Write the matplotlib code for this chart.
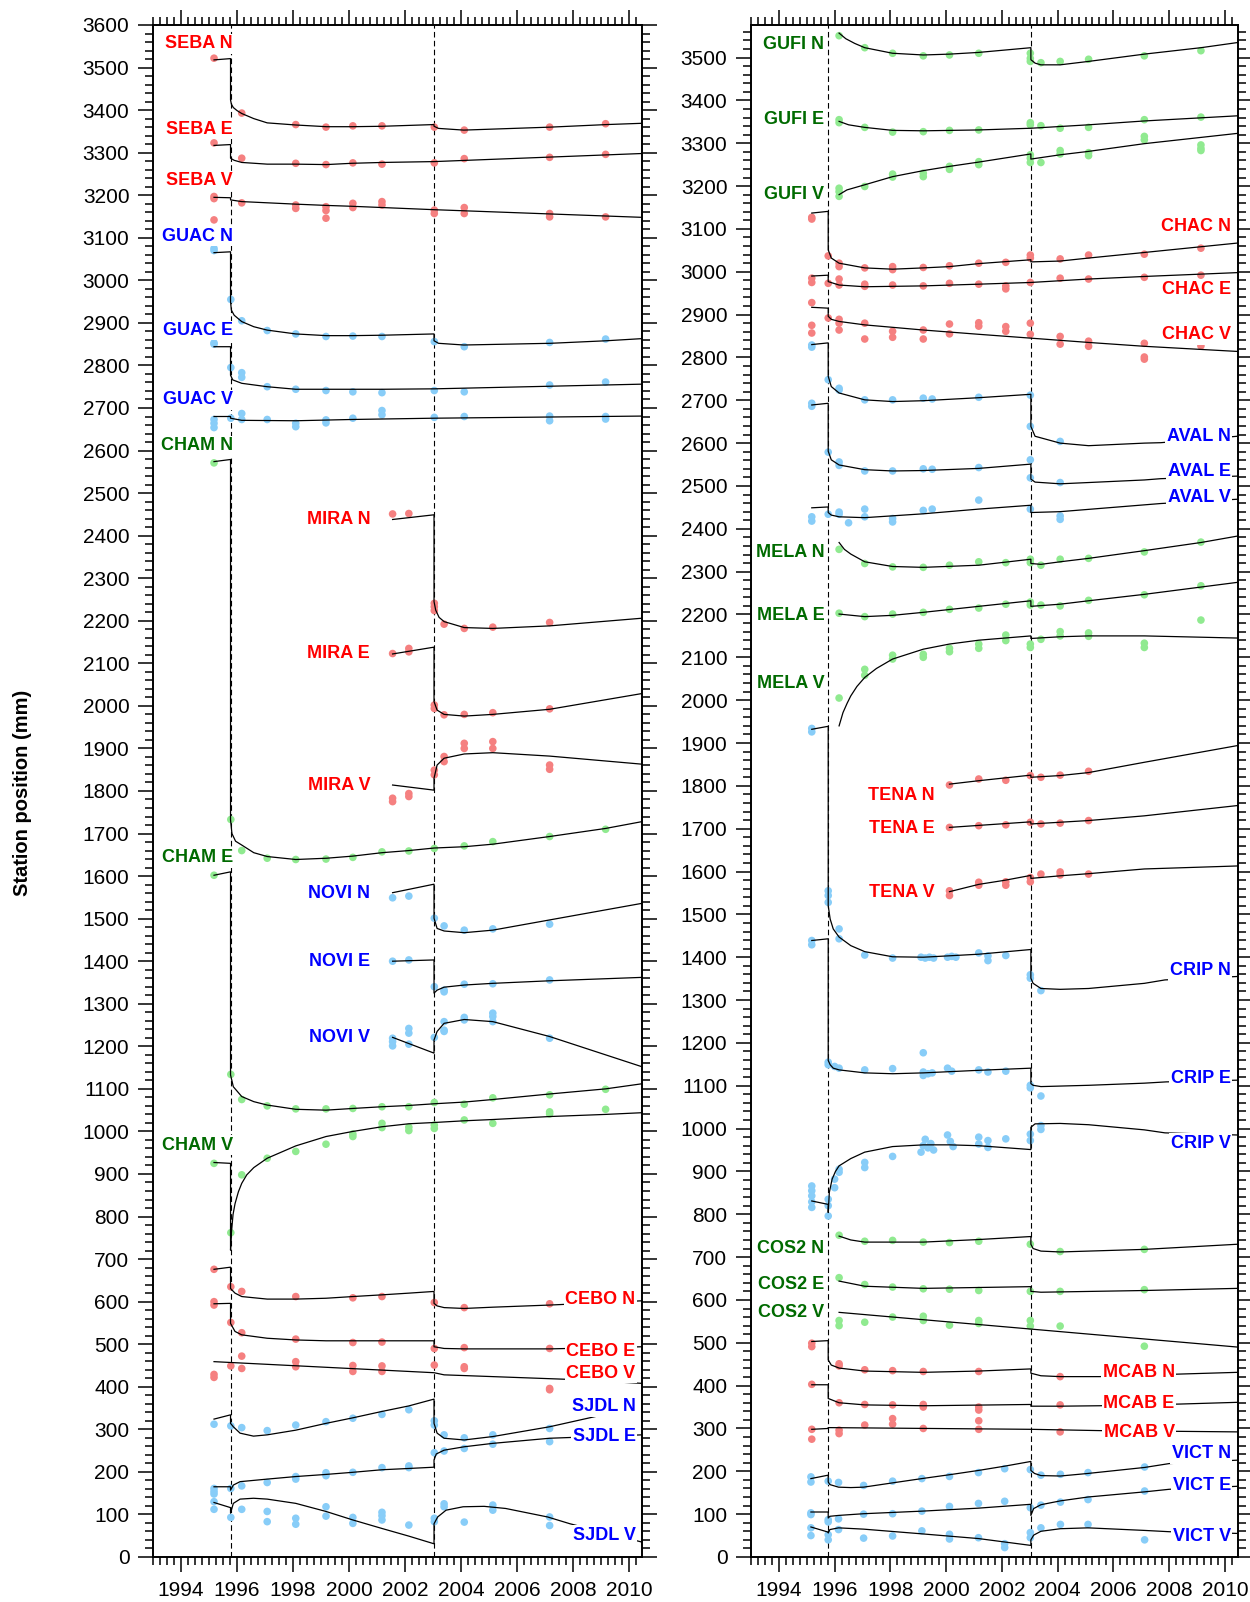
import matplotlib
matplotlib.use("Agg")
import matplotlib.pyplot as plt
from matplotlib.ticker import MultipleLocator

plt.rcParams["font.family"] = ["Liberation Sans", "DejaVu Sans"]

EQ1 = 1995.77
EQ2 = 2003.04

# ---------------- left panel ----------------
SEBA_N_obs = [(1995.18, 3522), (1996.17, 3393), (1998.10, 3366), (1999.18, 3360), (2000.14, 3363), (2001.18, 3363),
              (2003.05, 3360), (2004.12, 3353), (2007.17, 3360), (2009.17, 3368)]
SEBA_N_fit = [(1995.18, 3518), (1995.77, 3521), (1995.77, 3424), (1995.8, 3414), (1995.87, 3406), (1996.0, 3399),
              (1996.17, 3392), (1996.6, 3380), (1997.08, 3370), (1998.1, 3365), (1999.2, 3361), (2000.1, 3361),
              (2001.2, 3362), (2003.04, 3366), (2003.04, 3362), (2003.2, 3357), (2004.1, 3353), (2007.2, 3360),
              (2009.2, 3366), (2010.47, 3369)]
SEBA_E_obs = [(1995.18, 3323), (1996.17, 3287), (1998.10, 3275), (1999.18, 3272), (2000.14, 3276), (2001.18, 3273),
              (2003.05, 3276), (2004.12, 3286), (2007.17, 3289), (2009.17, 3296)]
SEBA_E_fit = [(1995.18, 3317), (1995.77, 3319), (1995.77, 3287), (1995.9, 3282), (1996.17, 3277), (1997.08, 3273),
              (1998.1, 3273), (1999.2, 3272), (2000.1, 3275), (2001.2, 3277), (2003.04, 3279), (2010.47, 3298)]
SEBA_V_obs = [(1995.18, 3197), (1995.18, 3192), (1995.18, 3142), (1996.17, 3182), (1998.10, 3177), (1998.10, 3169),
              (1999.18, 3173), (1999.18, 3164), (1999.18, 3146), (2000.14, 3181), (2000.14, 3171), (2001.18, 3185),
              (2001.18, 3177), (2003.05, 3165), (2003.05, 3157), (2004.12, 3171), (2004.12, 3157), (2007.17, 3157),
              (2007.17, 3149), (2009.17, 3149)]
SEBA_V_fit = [(1995.18, 3195), (1995.77, 3194), (1995.77, 3189), (1996.17, 3185), (1998.1, 3179), (1999.2, 3176),
              (2000.1, 3174), (2001.2, 3171), (2003.04, 3166), (2010.47, 3148)]

GUAC_N_obs = [(1995.18, 3075), (1995.18, 3070), (1995.78, 2955), (1996.17, 2905), (1997.08, 2882), (1998.10, 2874),
              (1999.18, 2868), (2000.14, 2869), (2001.18, 2868), (2003.05, 2856), (2004.12, 2844), (2007.17, 2854),
              (2009.17, 2862)]
GUAC_N_fit = [(1995.18, 3065), (1995.77, 3067), (1995.77, 2950), (1995.8, 2930), (1995.9, 2918), (1996.17, 2903),
              (1996.6, 2891), (1997.08, 2883), (1998.1, 2874), (1999.2, 2870), (2000.1, 2870), (2001.2, 2871),
              (2003.04, 2874), (2003.04, 2858), (2003.2, 2852), (2004.1, 2848), (2007.2, 2852), (2009.2, 2858),
              (2010.47, 2863)]
GUAC_E_obs = [(1995.18, 2853), (1995.18, 2850), (1995.78, 2795), (1996.17, 2783), (1996.17, 2772), (1997.08, 2750),
              (1998.10, 2744), (1999.18, 2741), (2000.14, 2738), (2001.18, 2736), (2003.05, 2741), (2004.12, 2738),
              (2007.17, 2754), (2009.17, 2761)]
GUAC_E_fit = [(1995.18, 2844), (1995.77, 2844), (1995.77, 2777), (1995.85, 2766), (1996.17, 2758), (1997.08, 2750),
              (1998.1, 2744), (1999.2, 2744), (2001.2, 2744), (2003.04, 2745), (2010.47, 2756)]
GUAC_V_obs = [(1995.18, 2673), (1995.18, 2664), (1995.18, 2654), (1995.78, 2676), (1996.17, 2687), (1996.17, 2673),
              (1997.08, 2673), (1998.10, 2664), (1998.10, 2656), (1999.18, 2672), (1999.18, 2665), (2000.14, 2676),
              (2001.18, 2694), (2001.18, 2684), (2003.05, 2678), (2004.12, 2680), (2007.17, 2681), (2007.17, 2670),
              (2009.17, 2680), (2009.17, 2674)]
GUAC_V_fit = [(1995.18, 2680), (1995.77, 2680), (1995.77, 2676), (1996.17, 2671), (1998.1, 2670), (2000.1, 2673),
              (2003.04, 2676), (2010.47, 2681)]

CHAM_N_obs = [(1995.18, 2571), (1995.78, 1733), (1996.17, 1660), (1997.08, 1642), (1998.10, 1639), (1999.18, 1640),
              (2000.14, 1644), (2001.18, 1657), (2002.14, 1659), (2003.05, 1665), (2004.12, 1671), (2005.14, 1681),
              (2007.17, 1693), (2009.17, 1710)]
CHAM_N_fit = [(1995.18, 2574), (1995.77, 2579), (1995.77, 1732), (1995.82, 1700), (1995.95, 1682), (1996.17, 1673),
              (1996.6, 1655), (1997.08, 1646), (1998.1, 1639), (1999.2, 1642), (2000.14, 1647), (2001.18, 1655),
              (2002.14, 1660), (2003.05, 1666), (2004.12, 1669), (2005.14, 1675), (2007.17, 1693), (2009.17, 1712),
              (2010.47, 1728)]
CHAM_E_obs = [(1995.18, 1602), (1995.78, 1134), (1996.17, 1075), (1997.08, 1060), (1998.10, 1053), (1999.18, 1053),
              (2000.14, 1054), (2001.18, 1058), (2002.14, 1058), (2003.05, 1068), (2004.12, 1064), (2005.14, 1079),
              (2007.17, 1086), (2009.17, 1099)]
CHAM_E_fit = [(1995.18, 1602), (1995.77, 1610), (1995.77, 1133), (1995.87, 1105), (1996.17, 1082), (1996.6, 1070),
              (1997.08, 1062), (1998.1, 1052), (1999.18, 1050), (2000.14, 1054), (2001.18, 1058), (2002.14, 1061),
              (2003.05, 1065), (2004.12, 1069), (2005.14, 1075), (2007.17, 1088), (2009.17, 1100), (2010.47, 1112)]
CHAM_V_obs = [(1995.18, 925), (1995.78, 762), (1996.17, 898), (1997.08, 937), (1998.10, 953), (1999.18, 970),
              (2000.14, 994), (2000.14, 988), (2001.18, 1019), (2001.18, 1009), (2002.14, 1010), (2002.14, 1002),
              (2003.05, 1015), (2003.05, 1007), (2004.12, 1027), (2005.14, 1019), (2007.17, 1046), (2007.17, 1041),
              (2009.17, 1052)]
CHAM_V_fit = [(1995.18, 927), (1995.77, 925), (1995.77, 721), (1995.8, 761), (1995.86, 805), (1995.93, 830),
              (1996.05, 858), (1996.17, 878), (1996.35, 898), (1996.6, 915), (1997.08, 937), (1998.1, 966),
              (1999.18, 988), (2000.14, 1000), (2001.18, 1011), (2002.14, 1018), (2003.05, 1021), (2004.12, 1025),
              (2005.14, 1028), (2007.17, 1035), (2009.17, 1040), (2010.47, 1044)]

MIRA_N_obs = [(2001.56, 2451), (2002.14, 2452), (2003.05, 2241), (2003.05, 2233), (2003.05, 2224), (2003.40, 2192),
              (2004.12, 2182), (2005.14, 2185), (2007.17, 2196)]
MIRA_N_fit = [(2001.56, 2438), (2003.04, 2449), (2003.04, 2245), (2003.1, 2225), (2003.22, 2208), (2003.4, 2198),
              (2004.12, 2184), (2005.14, 2182), (2007.17, 2188), (2010.47, 2206)]
MIRA_E_obs = [(2001.56, 2123), (2002.14, 2135), (2002.14, 2127), (2003.05, 2002), (2003.05, 1994), (2003.40, 1979),
              (2004.12, 1980), (2005.14, 1984), (2007.17, 1993)]
MIRA_E_fit = [(2001.56, 2122), (2003.04, 2138), (2003.04, 2010), (2003.15, 1990), (2003.4, 1980), (2004.12, 1976),
              (2005.14, 1980), (2007.17, 1992), (2010.47, 2029)]
MIRA_V_obs = [(2001.56, 1783), (2001.56, 1775), (2002.14, 1794), (2002.14, 1787), (2003.05, 1849), (2003.05, 1838),
              (2003.40, 1881), (2003.40, 1869), (2004.12, 1912), (2004.12, 1900), (2005.14, 1916), (2005.14, 1900),
              (2007.17, 1861), (2007.17, 1851)]
MIRA_V_fit = [(2001.56, 1814), (2003.04, 1802), (2003.04, 1830), (2003.15, 1861), (2003.4, 1877), (2004.12, 1887),
              (2005.14, 1890), (2007.17, 1882), (2010.47, 1863)]

NOVI_N_obs = [(2001.56, 1549), (2002.14, 1553), (2003.05, 1501), (2003.40, 1483), (2004.12, 1473), (2005.14, 1476),
              (2007.17, 1487)]
NOVI_N_fit = [(2001.56, 1561), (2003.04, 1581), (2003.04, 1501), (2003.15, 1477), (2003.4, 1471), (2004.12, 1467),
              (2005.14, 1473), (2007.17, 1497), (2010.47, 1536)]
NOVI_E_obs = [(2001.56, 1400), (2002.14, 1403), (2003.05, 1340), (2003.40, 1332), (2003.40, 1328), (2004.12, 1346),
              (2005.14, 1347), (2007.17, 1356)]
NOVI_E_fit = [(2001.56, 1400), (2003.04, 1403), (2003.04, 1325), (2003.15, 1332), (2003.4, 1339), (2004.12, 1344),
              (2005.14, 1348), (2007.17, 1354), (2010.47, 1362)]
NOVI_V_obs = [(2001.56, 1219), (2001.56, 1211), (2001.56, 1201), (2002.14, 1242), (2002.14, 1231), (2002.14, 1205),
              (2003.05, 1221), (2003.40, 1258), (2003.40, 1238), (2003.40, 1235), (2004.12, 1268), (2004.12, 1262),
              (2005.14, 1278), (2005.14, 1270), (2005.14, 1258), (2007.17, 1219)]
NOVI_V_fit = [(2001.56, 1221), (2003.04, 1184), (2003.04, 1215), (2003.15, 1235), (2003.4, 1254), (2004.12, 1263),
              (2005.14, 1258), (2007.17, 1223), (2010.47, 1152)]

CEBO_N_obs = [(1995.18, 676), (1995.78, 635), (1996.17, 624), (1998.10, 612), (2000.14, 609), (2001.18, 612),
              (2003.05, 598), (2004.12, 586), (2007.17, 595)]
CEBO_N_fit = [(1995.18, 676), (1995.77, 681), (1995.77, 631), (1995.93, 620), (1996.17, 612), (1997.08, 606),
              (1998.1, 606), (1999.18, 608), (2000.14, 612), (2001.18, 616), (2002.14, 620), (2003.04, 624),
              (2003.04, 596), (2003.15, 590), (2003.4, 586), (2004.12, 584), (2005.14, 587), (2007.17, 592),
              (2010.47, 602)]
CEBO_E_obs = [(1995.18, 600), (1995.18, 592), (1995.78, 551), (1996.17, 527), (1998.10, 512), (2000.14, 504),
              (2001.18, 505), (2003.05, 490), (2004.12, 492), (2007.17, 490)]
CEBO_E_fit = [(1995.18, 595), (1995.77, 596), (1995.77, 549), (1995.93, 530), (1996.17, 522), (1997.08, 514),
              (1998.1, 510), (1999.18, 508), (2003.04, 508), (2003.04, 494), (2003.4, 490), (2004.12, 489),
              (2007.17, 489), (2010.47, 494)]
CEBO_V_obs = [(1995.18, 429), (1995.18, 422), (1995.78, 449), (1996.17, 472), (1996.17, 443), (1998.10, 459),
              (1998.10, 447), (2000.14, 450), (2000.14, 436), (2001.18, 449), (2001.18, 436), (2003.05, 451),
              (2004.12, 447), (2004.12, 443), (2007.17, 396), (2007.17, 393)]
CEBO_V_fit = [(1995.18, 459), (2003.04, 433), (2003.4, 428), (2008.0, 417), (2010.47, 408)]

SJDL_N_obs = [(1995.18, 312), (1995.78, 308), (1996.17, 304), (1997.08, 297), (1998.10, 310), (1999.18, 318),
              (2000.14, 326), (2001.18, 335), (2002.14, 346), (2003.05, 320), (2003.05, 310), (2003.40, 287),
              (2004.12, 280), (2005.14, 287), (2007.17, 302)]
SJDL_N_fit = [(1995.18, 324), (1995.77, 334), (1995.77, 314), (1995.87, 306), (1996.11, 291), (1996.59, 284),
              (1997.08, 287), (1998.1, 298), (1999.18, 314), (2000.14, 327), (2001.18, 342), (2002.14, 355),
              (2003.04, 371), (2003.04, 314), (2003.15, 291), (2003.4, 279), (2004.12, 275), (2005.14, 283),
              (2007.17, 306), (2008.87, 331)]
SJDL_E_obs = [(1995.18, 161), (1995.18, 154), (1995.18, 148), (1995.78, 161), (1996.17, 167), (1997.08, 175),
              (1998.10, 189), (1998.10, 183), (1999.18, 198), (1999.18, 191), (2000.14, 199), (2001.18, 210),
              (2002.14, 214), (2002.14, 210), (2003.05, 245), (2003.40, 249), (2004.12, 255), (2005.14, 265),
              (2007.17, 271)]
SJDL_E_fit = [(1995.18, 165), (1995.77, 165), (1995.77, 157), (1995.87, 169), (1996.11, 177), (1997.08, 183),
              (1998.1, 189), (1999.18, 194), (2000.14, 199), (2001.18, 205), (2002.14, 208), (2003.04, 211),
              (2003.04, 228), (2003.12, 242), (2003.4, 251), (2004.12, 259), (2005.14, 267), (2007.17, 279),
              (2010.47, 287)]
SJDL_V_obs = [(1995.18, 130), (1995.18, 112), (1995.78, 93), (1996.17, 112), (1997.08, 107), (1997.08, 83),
              (1998.10, 91), (1998.10, 77), (1999.18, 118), (1999.18, 96), (2000.14, 93), (2000.14, 79),
              (2001.18, 105), (2001.18, 97), (2001.18, 87), (2002.14, 75), (2003.05, 91), (2003.05, 83),
              (2003.40, 125), (2003.40, 118), (2004.12, 82), (2005.14, 122), (2005.14, 110), (2007.17, 94),
              (2007.17, 74)]
SJDL_V_fit = [(1995.18, 128), (1995.77, 116), (1995.77, 103), (1995.87, 126), (1996.11, 136), (1996.59, 138),
              (1997.08, 136), (1998.1, 126), (1999.18, 107), (2000.14, 87), (2001.18, 67), (2002.14, 49),
              (2003.04, 31), (2003.04, 78), (2003.17, 94), (2003.47, 110), (2004.08, 118), (2004.83, 119),
              (2005.6, 114), (2007.1, 94), (2007.9, 78), (2010.47, 35)]

# ---------------- right panel ----------------
GUFI_N_obs = [(1996.16, 3551), (1997.08, 3523), (1998.08, 3510), (1999.18, 3504), (2000.12, 3506), (2001.17, 3510),
              (2003.02, 3510), (2003.02, 3498), (2003.02, 3491), (2003.40, 3488), (2004.09, 3491), (2005.11, 3496),
              (2007.11, 3504), (2009.14, 3516)]
GUFI_N_fit = [(1996.16, 3557), (1996.4, 3544), (1996.72, 3533), (1997.08, 3523), (1998.08, 3510), (1999.18, 3506),
              (2000.12, 3508), (2001.17, 3512), (2003.04, 3523), (2003.04, 3495), (2003.19, 3487), (2003.4, 3483),
              (2004.09, 3483), (2005.11, 3491), (2007.11, 3508), (2009.14, 3523), (2010.45, 3535)]
GUFI_E_obs = [(1996.16, 3355), (1996.16, 3348), (1997.08, 3337), (1998.08, 3326), (1999.18, 3327), (2000.12, 3330),
              (2001.17, 3331), (2003.02, 3348), (2003.02, 3343), (2003.40, 3341), (2004.09, 3335), (2005.11, 3337),
              (2007.11, 3355), (2009.14, 3361)]
GUFI_E_fit = [(1996.16, 3351), (1996.5, 3343), (1997.08, 3337), (1998.08, 3330), (1999.18, 3329), (2001.17, 3331),
              (2003.04, 3335), (2005.11, 3343), (2007.11, 3352), (2010.45, 3364)]
GUFI_V_obs = [(1996.16, 3195), (1996.16, 3187), (1996.16, 3176), (1997.08, 3199), (1998.08, 3228), (1998.08, 3221),
              (1999.18, 3230), (1999.18, 3222), (2000.12, 3246), (2000.12, 3239), (2001.17, 3257), (2001.17, 3250),
              (2003.02, 3273), (2003.02, 3265), (2003.02, 3255), (2003.40, 3255), (2004.09, 3283), (2004.09, 3275),
              (2005.11, 3278), (2005.11, 3271), (2007.11, 3316), (2007.11, 3308), (2009.14, 3296), (2009.14, 3288),
              (2009.14, 3283)]
GUFI_V_fit = [(1996.16, 3180), (1996.44, 3191), (1997.08, 3203), (1998.08, 3222), (1999.18, 3236), (2000.12, 3246),
              (2001.17, 3256), (2003.04, 3275), (2003.04, 3263), (2004.09, 3273), (2005.11, 3281), (2007.11, 3299),
              (2010.45, 3323)]

CHAC_N_obs = [(1995.18, 3127), (1995.18, 3123), (1995.77, 3037), (1996.16, 3020), (1996.16, 3012), (1997.08, 3009),
              (1998.08, 3012), (1998.08, 3005), (1999.18, 3010), (2000.12, 3014), (2001.17, 3020), (2002.14, 3022),
              (2003.02, 3039), (2003.02, 3032), (2004.09, 3030), (2005.11, 3039), (2007.11, 3041), (2009.14, 3055)]
CHAC_N_fit = [(1995.18, 3137), (1995.77, 3141), (1995.77, 3051), (1995.88, 3032), (1996.16, 3020), (1997.08, 3009),
              (1998.08, 3006), (1999.18, 3009), (2000.12, 3012), (2001.17, 3019), (2003.04, 3028), (2003.04, 3023),
              (2004.09, 3025), (2005.11, 3032), (2007.11, 3045), (2010.45, 3067)]
CHAC_E_obs = [(1995.18, 2985), (1995.18, 2975), (1995.77, 2973), (1996.16, 2983), (1996.16, 2969), (1997.08, 2971),
              (1997.08, 2966), (1998.08, 2969), (1999.18, 2967), (2000.12, 2973), (2001.17, 2971), (2002.14, 2967),
              (2002.14, 2960), (2003.02, 2975), (2004.09, 2985), (2005.11, 2983), (2007.11, 2987), (2009.14, 2992)]
CHAC_E_fit = [(1995.18, 2990), (1995.77, 2992), (1995.77, 2977), (1996.16, 2969), (1997.08, 2965), (1999.18, 2967),
              (2001.17, 2971), (2003.04, 2975), (2005.11, 2983), (2007.11, 2989), (2010.45, 2998)]
CHAC_V_obs = [(1995.18, 2928), (1995.18, 2875), (1995.18, 2857), (1995.77, 2892), (1996.16, 2889), (1996.16, 2880),
              (1996.16, 2864), (1997.08, 2880), (1997.08, 2843), (1998.08, 2861), (1998.08, 2847), (1999.18, 2864),
              (1999.18, 2843), (2000.12, 2878), (2000.12, 2855), (2001.17, 2881), (2001.17, 2873), (2002.14, 2872),
              (2002.14, 2861), (2003.02, 2880), (2003.02, 2854), (2004.09, 2849), (2004.09, 2831), (2005.11, 2838),
              (2005.11, 2826), (2007.11, 2833), (2007.11, 2801), (2007.11, 2796), (2009.14, 2827)]
CHAC_V_fit = [(1995.18, 2917), (1995.77, 2915), (1995.77, 2896), (1995.88, 2889), (1996.16, 2884), (1997.08, 2876),
              (1999.18, 2864), (2001.17, 2854), (2003.04, 2845), (2005.11, 2835), (2007.11, 2826), (2010.45, 2814)]

AVAL_N_obs = [(1995.18, 2829), (1995.18, 2824), (1995.77, 2748), (1996.16, 2728), (1996.16, 2724), (1997.08, 2701),
              (1998.08, 2701), (1999.18, 2705), (1999.50, 2703), (2001.17, 2707), (2003.02, 2712), (2003.02, 2639),
              (2004.09, 2604)]
AVAL_N_fit = [(1995.18, 2830), (1995.77, 2834), (1995.77, 2756), (1995.88, 2732), (1996.16, 2717), (1997.08, 2701),
              (1998.08, 2697), (1999.18, 2699), (2001.17, 2706), (2003.04, 2714), (2003.04, 2639), (2003.19, 2616),
              (2004.09, 2600), (2005.11, 2594), (2007.11, 2600), (2007.7, 2601), (2010.45, 2616)]
AVAL_E_obs = [(1995.18, 2693), (1995.18, 2686), (1995.77, 2579), (1996.16, 2556), (1996.16, 2548), (1997.08, 2535),
              (1998.08, 2535), (1999.18, 2540), (1999.50, 2539), (2001.17, 2543), (2003.02, 2561), (2003.02, 2519),
              (2004.09, 2508)]
AVAL_E_fit = [(1995.18, 2689), (1995.77, 2693), (1995.77, 2581), (1995.88, 2561), (1996.16, 2549), (1997.08, 2538),
              (1998.08, 2535), (1999.18, 2536), (2001.17, 2541), (2003.04, 2551), (2003.04, 2516), (2003.19, 2509),
              (2004.09, 2505), (2005.11, 2508), (2007.11, 2514), (2007.7, 2517), (2010.45, 2523)]
AVAL_V_obs = [(1995.18, 2428), (1995.18, 2418), (1995.77, 2434), (1996.16, 2439), (1996.16, 2434), (1996.50, 2414),
              (1997.08, 2446), (1997.08, 2428), (1998.08, 2424), (1998.08, 2416), (1999.18, 2443), (1999.50, 2446),
              (2001.17, 2467), (2003.02, 2446), (2004.09, 2430), (2004.09, 2422)]
AVAL_V_fit = [(1995.18, 2449), (1995.77, 2451), (1995.77, 2438), (1995.88, 2432), (1996.16, 2428), (1997.08, 2426),
              (1999.18, 2435), (2001.17, 2446), (2003.04, 2455), (2003.04, 2438), (2004.09, 2440), (2007.7, 2459),
              (2010.45, 2469)]

MELA_N_obs = [(1996.16, 2352), (1997.08, 2319), (1998.08, 2311), (1999.18, 2310), (2000.12, 2315), (2001.17, 2323),
              (2002.14, 2321), (2003.02, 2329), (2003.02, 2321), (2003.40, 2315), (2004.09, 2329), (2005.11, 2331),
              (2007.11, 2346), (2009.14, 2369)]
MELA_N_fit = [(1996.16, 2368), (1996.35, 2352), (1996.58, 2341), (1997.08, 2323), (1998.08, 2312), (1999.18, 2310),
              (2001.17, 2315), (2003.04, 2329), (2003.04, 2319), (2003.4, 2317), (2004.09, 2323), (2005.11, 2331),
              (2007.11, 2349), (2009.14, 2368), (2010.45, 2383)]
MELA_E_obs = [(1996.16, 2203), (1997.08, 2195), (1998.08, 2201), (1999.18, 2205), (2000.12, 2212), (2001.17, 2215),
              (2002.14, 2224), (2003.02, 2229), (2003.02, 2222), (2003.40, 2222), (2004.09, 2220), (2005.11, 2233),
              (2007.11, 2246), (2009.14, 2267), (2009.14, 2187)]
MELA_E_fit = [(1996.16, 2201), (1997.08, 2195), (1998.08, 2198), (1999.18, 2205), (2001.17, 2219), (2003.04, 2232),
              (2003.04, 2219), (2004.09, 2224), (2005.11, 2232), (2007.11, 2247), (2010.45, 2275)]
MELA_V_obs = [(1996.16, 2005), (1997.08, 2072), (1997.08, 2058), (1998.08, 2105), (1998.08, 2096), (1999.18, 2107),
              (1999.18, 2100), (2000.12, 2121), (2000.12, 2113), (2001.17, 2131), (2001.17, 2121), (2002.14, 2152),
              (2002.14, 2139), (2003.02, 2131), (2003.02, 2123), (2003.40, 2142), (2004.09, 2160), (2004.09, 2150),
              (2005.11, 2157), (2005.11, 2149), (2007.11, 2133), (2007.11, 2123)]
MELA_V_fit = [(1996.16, 1940), (1996.3, 1971), (1996.45, 1993), (1996.58, 2010), (1996.8, 2032), (1997.08, 2053),
              (1997.5, 2074), (1998.08, 2096), (1999.18, 2119), (2000.12, 2131), (2001.17, 2140), (2003.04, 2150),
              (2003.04, 2144), (2004.09, 2148), (2005.11, 2150), (2007.11, 2150), (2010.45, 2145)]

TENA_N_obs = [(2000.12, 1802), (2001.17, 1816), (2002.14, 1813), (2003.02, 1824), (2003.40, 1820), (2004.09, 1825),
              (2005.11, 1834)]
TENA_N_fit = [(2000.12, 1804), (2001.17, 1812), (2003.04, 1825), (2003.04, 1820), (2004.09, 1824), (2005.11, 1831),
              (2007.11, 1855), (2010.45, 1894)]
TENA_E_obs = [(2000.12, 1703), (2001.17, 1707), (2002.14, 1709), (2003.02, 1715), (2003.40, 1711), (2004.09, 1713),
              (2005.11, 1719)]
TENA_E_fit = [(2000.12, 1703), (2003.04, 1716), (2003.04, 1711), (2005.11, 1719), (2007.11, 1730), (2010.45, 1754)]
TENA_V_obs = [(2000.12, 1555), (2000.12, 1544), (2001.17, 1575), (2001.17, 1568), (2002.14, 1576), (2002.14, 1568),
              (2003.02, 1586), (2003.02, 1576), (2003.40, 1594), (2004.09, 1599), (2004.09, 1592), (2005.11, 1594)]
TENA_V_fit = [(2000.12, 1553), (2001.17, 1570), (2002.14, 1580), (2003.04, 1591), (2003.04, 1584), (2004.09, 1590),
              (2005.11, 1595), (2007.11, 1606), (2010.45, 1613)]

CRIP_N_obs = [(1995.18, 1934), (1995.18, 1926), (1995.77, 1555), (1995.77, 1544), (1995.77, 1528), (1996.16, 1466),
              (1996.16, 1443), (1997.08, 1405), (1998.08, 1398), (1999.10, 1400), (1999.25, 1398), (1999.40, 1400),
              (1999.55, 1398), (2000.05, 1400), (2000.20, 1402), (2000.35, 1400), (2001.17, 1410), (2001.50, 1403),
              (2001.50, 1392), (2002.14, 1404), (2003.02, 1359), (2003.02, 1351), (2003.40, 1322)]
CRIP_N_fit = [(1995.18, 1932), (1995.77, 1939), (1995.77, 1520), (1995.84, 1489), (1995.95, 1466), (1996.16, 1447),
              (1996.58, 1427), (1997.08, 1413), (1998.08, 1401), (1999.18, 1400), (2001.17, 1407), (2003.04, 1418),
              (2003.04, 1351), (2003.12, 1339), (2003.4, 1327), (2004.09, 1325), (2005.11, 1327), (2007.11, 1339),
              (2007.85, 1347), (2010.45, 1355)]
CRIP_E_obs = [(1995.18, 1439), (1995.18, 1429), (1995.77, 1155), (1995.77, 1149), (1996.00, 1145), (1996.16, 1141),
              (1997.08, 1137), (1998.08, 1140), (1999.18, 1177), (1999.18, 1132), (1999.18, 1124), (1999.35, 1128),
              (1999.50, 1130), (2000.05, 1141), (2000.20, 1134), (2001.17, 1137), (2001.50, 1132), (2002.14, 1134),
              (2003.02, 1101), (2003.02, 1095), (2003.40, 1076)]
CRIP_E_fit = [(1995.18, 1439), (1995.77, 1443), (1995.77, 1159), (1995.84, 1149), (1995.95, 1141), (1996.16, 1137),
              (1997.08, 1130), (1998.08, 1128), (1999.18, 1130), (2001.17, 1136), (2003.04, 1141), (2003.04, 1105),
              (2003.12, 1101), (2003.4, 1098), (2005.11, 1101), (2007.11, 1106), (2007.9, 1109), (2010.45, 1113)]
CRIP_V_obs = [(1995.18, 866), (1995.18, 855), (1995.18, 843), (1995.18, 829), (1995.18, 816), (1995.77, 835),
              (1995.77, 820), (1995.77, 796), (1996.00, 882), (1996.00, 862), (1996.16, 905), (1996.16, 898),
              (1997.08, 921), (1997.08, 909), (1998.08, 935), (1999.10, 945), (1999.18, 960), (1999.25, 975),
              (1999.35, 955), (1999.45, 965), (1999.55, 950), (2000.05, 985), (2000.15, 970), (2000.25, 958),
              (2001.17, 980), (2001.17, 964), (2001.50, 972), (2001.50, 956), (2002.14, 976), (2003.02, 987),
              (2003.02, 972), (2003.40, 1007), (2003.40, 998)]
CRIP_V_fit = [(1995.18, 831), (1995.77, 823), (1995.77, 804), (1995.81, 851), (1995.91, 882), (1996.03, 900),
              (1996.16, 913), (1996.58, 930), (1997.08, 945), (1998.08, 958), (1999.18, 962), (2000.12, 962),
              (2001.17, 960), (2003.04, 951), (2003.04, 1003), (2003.19, 1011), (2004.09, 1012), (2005.11, 1009),
              (2007.11, 997), (2007.85, 990), (2010.45, 985)]

COS2_N_obs = [(1996.16, 751), (1997.08, 737), (1998.08, 739), (1999.18, 735), (2000.12, 734), (2001.17, 737),
              (2003.02, 730), (2004.09, 713), (2007.11, 718)]
COS2_N_fit = [(1996.16, 749), (1996.58, 740), (1997.08, 735), (1999.18, 735), (2001.17, 741), (2003.04, 748),
              (2003.04, 730), (2003.12, 720), (2003.4, 714), (2004.09, 712), (2007.11, 718), (2010.45, 730)]
COS2_E_obs = [(1996.16, 652), (1997.08, 636), (1998.08, 630), (1999.18, 626), (2000.12, 625), (2001.17, 622),
              (2003.02, 620), (2004.09, 620), (2007.11, 624)]
COS2_E_fit = [(1996.16, 644), (1997.08, 632), (1999.18, 627), (2003.04, 631), (2003.04, 620), (2003.4, 618),
              (2007.11, 622), (2010.45, 627)]
COS2_V_obs = [(1996.16, 552), (1996.16, 540), (1997.08, 548), (1998.08, 560), (1999.18, 562), (1999.18, 552),
              (2000.12, 541), (2001.17, 552), (2001.17, 545), (2003.02, 552), (2003.02, 539), (2004.09, 539),
              (2007.11, 492)]
COS2_V_fit = [(1996.16, 571), (2003.04, 532), (2010.45, 490)]

MCAB_N_obs = [(1995.18, 499), (1995.18, 491), (1996.16, 451), (1996.16, 446), (1997.08, 437), (1998.08, 435),
              (1999.18, 433), (2001.17, 433), (2004.09, 421)]
MCAB_N_fit = [(1995.18, 503), (1995.77, 505), (1995.77, 460), (1995.88, 448), (1996.16, 441), (1997.08, 434),
              (1999.18, 431), (2001.17, 434), (2003.04, 439), (2003.04, 429), (2003.4, 423), (2004.09, 421),
              (2005.5, 421), (2008.4, 427), (2010.45, 431)]
MCAB_E_obs = [(1995.18, 403), (1996.16, 360), (1997.08, 356), (1998.08, 355), (1999.18, 356), (1999.18, 350),
              (2001.17, 350), (2001.17, 343), (2004.09, 355)]
MCAB_E_fit = [(1995.18, 402), (1995.77, 402), (1995.77, 370), (1996.16, 360), (1997.08, 355), (1999.18, 353),
              (2003.04, 356), (2003.04, 352), (2004.09, 352), (2005.5, 353), (2008.4, 357), (2010.45, 361)]
MCAB_V_obs = [(1995.18, 298), (1995.18, 275), (1996.16, 296), (1996.16, 288), (1997.08, 308), (1998.08, 323),
              (1998.08, 310), (1999.18, 300), (2001.17, 318), (2001.17, 298), (2004.09, 292)]
MCAB_V_fit = [(1995.18, 298), (1995.77, 300), (1995.77, 302), (2003.04, 298), (2005.5, 295), (2010.45, 292)]

VICT_N_obs = [(1995.15, 187), (1995.15, 175), (1995.77, 177), (1996.14, 174), (1997.04, 167), (1998.08, 177),
              (1999.13, 183), (2000.12, 188), (2001.16, 197), (2002.10, 206), (2003.02, 204), (2003.40, 191),
              (2004.10, 193), (2005.09, 197), (2007.12, 210)]
VICT_N_fit = [(1995.15, 183), (1995.77, 191), (1995.77, 175), (1995.83, 169), (1996.14, 163), (1996.58, 162),
              (1997.04, 163), (1998.08, 173), (1999.13, 183), (2000.12, 192), (2001.16, 202), (2002.1, 212),
              (2003.04, 223), (2003.04, 202), (2003.17, 195), (2003.4, 190), (2004.1, 189), (2005.09, 195),
              (2007.12, 209), (2008.0, 218), (2010.45, 226)]
VICT_E_obs = [(1995.15, 103), (1995.15, 99), (1995.77, 87), (1995.77, 82), (1996.14, 89), (1997.04, 100),
              (1998.08, 101), (1999.13, 107), (2000.12, 118), (2001.16, 125), (2002.10, 130), (2003.02, 115),
              (2003.40, 121), (2004.10, 128), (2005.09, 134), (2007.12, 154)]
VICT_E_fit = [(1995.15, 105), (1995.77, 105), (1995.77, 91), (1995.83, 95), (1996.14, 97), (1997.04, 101),
              (1999.13, 107), (2001.16, 114), (2003.04, 123), (2003.04, 97), (2003.14, 113), (2003.4, 122),
              (2004.1, 131), (2005.09, 140), (2007.12, 152), (2008.0, 158), (2010.45, 165)]
VICT_V_obs = [(1995.15, 68), (1995.15, 50), (1995.77, 52), (1995.77, 40), (1996.14, 64), (1997.04, 44),
              (1998.08, 49), (1999.13, 61), (2000.12, 53), (2000.12, 42), (2001.16, 45), (2002.10, 31),
              (2002.10, 22), (2003.02, 57), (2003.02, 45), (2003.40, 68), (2004.10, 76), (2005.09, 76), (2007.12, 40)]
VICT_V_fit = [(1995.15, 70), (1995.77, 58), (1995.77, 56), (1995.83, 64), (1996.14, 68), (1997.04, 65),
              (1999.13, 54), (2001.16, 43), (2003.04, 27), (2003.04, 40), (2003.14, 51), (2003.4, 60),
              (2004.1, 66), (2005.09, 68), (2007.12, 62), (2008.0, 59), (2010.45, 55)]

# colours per network (light dots, strong label text)
DOT = {"red": "#f58080", "blue": "#88cdf8", "green": "#90ea90"}
TXT = {"red": "#ff0000", "blue": "#0000ff", "green": "#006a00"}

left_series = [
    (SEBA_N_obs, SEBA_N_fit, "red"), (SEBA_E_obs, SEBA_E_fit, "red"), (SEBA_V_obs, SEBA_V_fit, "red"),
    (GUAC_N_obs, GUAC_N_fit, "blue"), (GUAC_E_obs, GUAC_E_fit, "blue"), (GUAC_V_obs, GUAC_V_fit, "blue"),
    (CHAM_N_obs, CHAM_N_fit, "green"), (CHAM_E_obs, CHAM_E_fit, "green"), (CHAM_V_obs, CHAM_V_fit, "green"),
    (MIRA_N_obs, MIRA_N_fit, "red"), (MIRA_E_obs, MIRA_E_fit, "red"), (MIRA_V_obs, MIRA_V_fit, "red"),
    (NOVI_N_obs, NOVI_N_fit, "blue"), (NOVI_E_obs, NOVI_E_fit, "blue"), (NOVI_V_obs, NOVI_V_fit, "blue"),
    (CEBO_N_obs, CEBO_N_fit, "red"), (CEBO_E_obs, CEBO_E_fit, "red"), (CEBO_V_obs, CEBO_V_fit, "red"),
    (SJDL_N_obs, SJDL_N_fit, "blue"), (SJDL_E_obs, SJDL_E_fit, "blue"), (SJDL_V_obs, SJDL_V_fit, "blue"),
]
right_series = [
    (GUFI_N_obs, GUFI_N_fit, "green"), (GUFI_E_obs, GUFI_E_fit, "green"), (GUFI_V_obs, GUFI_V_fit, "green"),
    (CHAC_N_obs, CHAC_N_fit, "red"), (CHAC_E_obs, CHAC_E_fit, "red"), (CHAC_V_obs, CHAC_V_fit, "red"),
    (AVAL_N_obs, AVAL_N_fit, "blue"), (AVAL_E_obs, AVAL_E_fit, "blue"), (AVAL_V_obs, AVAL_V_fit, "blue"),
    (MELA_N_obs, MELA_N_fit, "green"), (MELA_E_obs, MELA_E_fit, "green"), (MELA_V_obs, MELA_V_fit, "green"),
    (TENA_N_obs, TENA_N_fit, "red"), (TENA_E_obs, TENA_E_fit, "red"), (TENA_V_obs, TENA_V_fit, "red"),
    (CRIP_N_obs, CRIP_N_fit, "blue"), (CRIP_E_obs, CRIP_E_fit, "blue"), (CRIP_V_obs, CRIP_V_fit, "blue"),
    (COS2_N_obs, COS2_N_fit, "green"), (COS2_E_obs, COS2_E_fit, "green"), (COS2_V_obs, COS2_V_fit, "green"),
    (MCAB_N_obs, MCAB_N_fit, "red"), (MCAB_E_obs, MCAB_E_fit, "red"), (MCAB_V_obs, MCAB_V_fit, "red"),
    (VICT_N_obs, VICT_N_fit, "blue"), (VICT_E_obs, VICT_E_fit, "blue"), (VICT_V_obs, VICT_V_fit, "blue"),
]

# label text, anchor x (right edge), y centre, colour
left_labels = [
    ("SEBA N", 1995.86, 3556, "red"), ("SEBA E", 1995.86, 3355, "red"), ("SEBA V", 1995.86, 3234, "red"),
    ("GUAC N", 1995.86, 3103, "blue"), ("GUAC E", 1995.86, 2882, "blue"), ("GUAC V", 1995.86, 2719, "blue"),
    ("CHAM N", 1995.86, 2611, "green"), ("CHAM E", 1995.86, 1643, "green"), ("CHAM V", 1995.86, 968, "green"),
    ("MIRA N", 2000.76, 2437, "red"), ("MIRA E", 2000.76, 2122, "red"), ("MIRA V", 2000.76, 1814, "red"),
    ("NOVI N", 2000.76, 1560, "blue"), ("NOVI E", 2000.76, 1400, "blue"), ("NOVI V", 2000.76, 1221, "blue"),
    ("CEBO N", 2010.24, 605, "red"), ("CEBO E", 2010.24, 484, "red"), ("CEBO V", 2010.24, 432, "red"),
    ("SJDL N", 2010.24, 353, "blue"), ("SJDL E", 2010.24, 283, "blue"), ("SJDL V", 2010.24, 51, "blue"),
]
right_labels = [
    ("GUFI N", 1995.63, 3530, "green"), ("GUFI E", 1995.63, 3355, "green"), ("GUFI V", 1995.63, 3180, "green"),
    ("CHAC N", 2010.21, 3106, "red"), ("CHAC E", 2010.21, 2958, "red"), ("CHAC V", 2010.21, 2853, "red"),
    ("AVAL N", 2010.21, 2616, "blue"), ("AVAL E", 2010.21, 2533, "blue"), ("AVAL V", 2010.21, 2473, "blue"),
    ("MELA N", 1995.63, 2345, "green"), ("MELA E", 1995.63, 2197, "green"), ("MELA V", 1995.63, 2040, "green"),
    ("TENA N", 1999.6, 1777, "red"), ("TENA E", 1999.6, 1701, "red"), ("TENA V", 1999.6, 1552, "red"),
    ("CRIP N", 2010.21, 1368, "blue"), ("CRIP E", 2010.21, 1118, "blue"), ("CRIP V", 2010.21, 966, "blue"),
    ("COS2 N", 1995.63, 720, "green"), ("COS2 E", 1995.63, 637, "green"), ("COS2 V", 1995.63, 570, "green"),
    ("MCAB N", 2008.2, 430, "red"), ("MCAB E", 2008.2, 359, "red"), ("MCAB V", 2008.2, 290, "red"),
    ("VICT N", 2010.21, 241, "blue"), ("VICT E", 2010.21, 167, "blue"), ("VICT V", 2010.21, 47, "blue"),
]


def draw_panel(ax, series, labels, ytop, ymax_tick):
    for eq in (EQ1, EQ2):
        ax.axvline(eq, color="black", lw=0.8, ls=(0, (5, 3)), zorder=1)
    for obs, fit, col in series:
        ax.scatter([p[0] for p in obs], [p[1] for p in obs], s=30, color=DOT[col],
                   edgecolors="none", zorder=2)
        ax.plot([p[0] for p in fit], [p[1] for p in fit], color="black", lw=0.9, zorder=3,
                solid_joinstyle="round")
    for txt, x, y, col in labels:
        ax.text(x, y, txt, ha="right", va="center", fontsize=13, fontweight="bold", color=TXT[col],
                zorder=5, bbox=dict(facecolor="white", edgecolor="none", pad=1.0))

    ax.set_xlim(1993.0, 2010.47)
    ax.set_ylim(0, ytop)
    ax.xaxis.set_major_locator(MultipleLocator(2))
    ax.xaxis.set_minor_locator(MultipleLocator(0.25))
    ax.set_yticks(range(0, ymax_tick + 1, 100))
    ax.yaxis.set_minor_locator(MultipleLocator(20))
    ax.tick_params(which="both", direction="out", top=True, right=True, width=1.1, labelsize=15)
    ax.tick_params(which="major", length=11, pad=6)
    ax.tick_params(which="minor", length=5.5)
    for sp in ax.spines.values():
        sp.set_linewidth(1.4)


fig = plt.figure(figsize=(12.5, 16.02), dpi=100)
ax1 = fig.add_axes([0.1224, 0.0281, 0.3912, 0.9563])
ax2 = fig.add_axes([0.6008, 0.0281, 0.3896, 0.9563])

draw_panel(ax1, left_series, left_labels, 3600, 3600)
draw_panel(ax2, right_series, right_labels, 3576, 3500)

fig.text(0.0184, 0.505, "Station position (mm)", rotation=90, ha="center", va="center",
         fontsize=14.5, fontweight="bold")

fig.savefig("out.png", dpi=100)
